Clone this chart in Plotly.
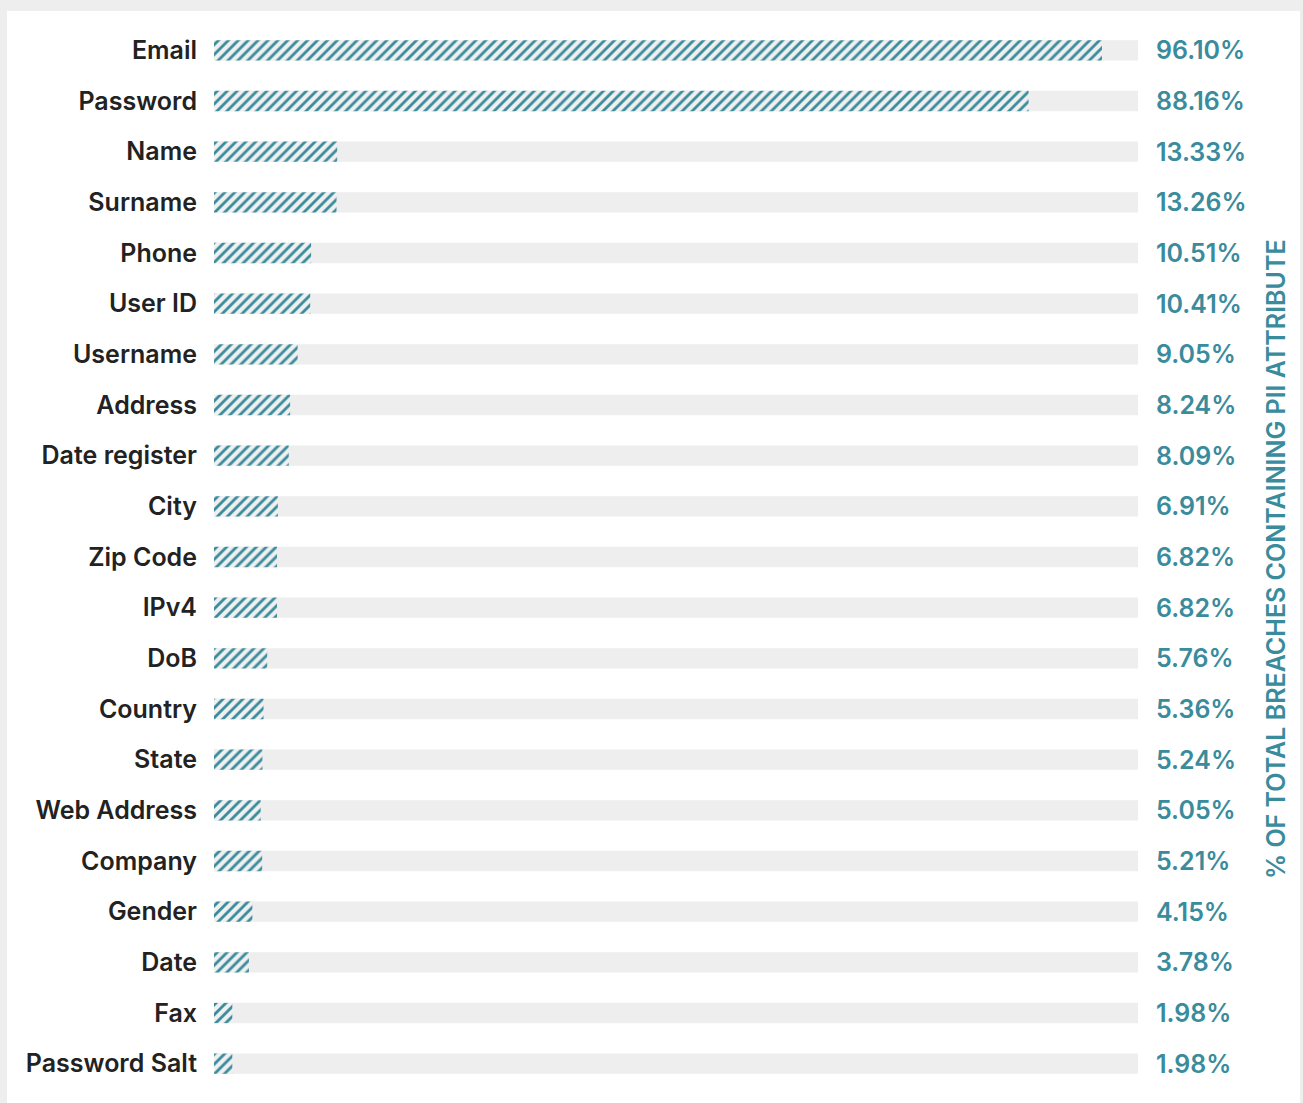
import plotly.graph_objects as go

categories = ["Email", "Password", "Name", "Surname", "Phone", "User ID", "Username",
              "Address", "Date register", "City", "Zip Code", "IPv4", "DoB", "Country",
              "State", "Web Address", "Company", "Gender", "Date", "Fax", "Password Salt"]
values = [96.10, 88.16, 13.33, 13.26, 10.51, 10.41, 9.05, 8.24, 8.09, 6.91, 6.82, 6.82,
          5.76, 5.36, 5.24, 5.05, 5.21, 4.15, 3.78, 1.98, 1.98]
track_max = 100
axis_title = "% OF TOTAL BREACHES CONTAINING PII ATTRIBUTE"

TEAL = "#3a8b9c"
GRAY = "#eeeeee"
W, H = 1303, 1103
L, R = 214, 1138
T, B = 25, 1089

fig = go.Figure()
fig.add_trace(go.Bar(
    y=categories, x=[track_max] * len(categories), orientation="h",
    marker=dict(color=GRAY, line=dict(width=0)), width=0.4,
    hoverinfo="skip", showlegend=False))
fig.add_trace(go.Bar(
    y=categories, x=values, orientation="h", width=0.4,
    marker=dict(color="#f0f0f0", line=dict(width=0),
                pattern=dict(shape="/", fgcolor=TEAL, bgcolor="#f0f0f0",
                             size=7, solidity=0.4, fillmode="replace")),
    showlegend=False))

for c, v in zip(categories, values):
    fig.add_annotation(x=track_max, y=c, text=f"{v:.2f}%", xanchor="left", xshift=16,
                       showarrow=False,
                       font=dict(family="Inter", size=25, color=TEAL, weight=600))

def px_to_paper_x(px):
    return (px - L) / (R - L)

def px_to_paper_y(py):
    return (B - py) / (B - T)

fig.add_annotation(xref="paper", yref="paper", x=px_to_paper_x(1276), y=px_to_paper_y(559),
                   text=axis_title, textangle=-90, showarrow=False,
                   xanchor="center", yanchor="middle",
                   font=dict(family="Inter", size=25, color=TEAL, weight=600))

# outer gray frame
fig.add_shape(type="rect", xref="paper", yref="paper", layer="below",
              x0=px_to_paper_x(7), x1=px_to_paper_x(1300),
              y0=px_to_paper_y(1110), y1=px_to_paper_y(11),
              fillcolor="white", line=dict(width=0))

fig.update_layout(
    width=W, height=H, barmode="overlay",
    margin=dict(l=L, r=W - R, t=T, b=H - B),
    paper_bgcolor=GRAY, plot_bgcolor="rgba(0,0,0,0)",
    xaxis=dict(range=[0, track_max], visible=False, fixedrange=True),
    yaxis=dict(range=[len(categories) - 0.5, -0.5], showgrid=False, zeroline=False,
               ticks="", ticklabelstandoff=16,
               tickfont=dict(family="Inter", size=25, color="#222222", weight=600)),
)

fig.write_html("out.html")
